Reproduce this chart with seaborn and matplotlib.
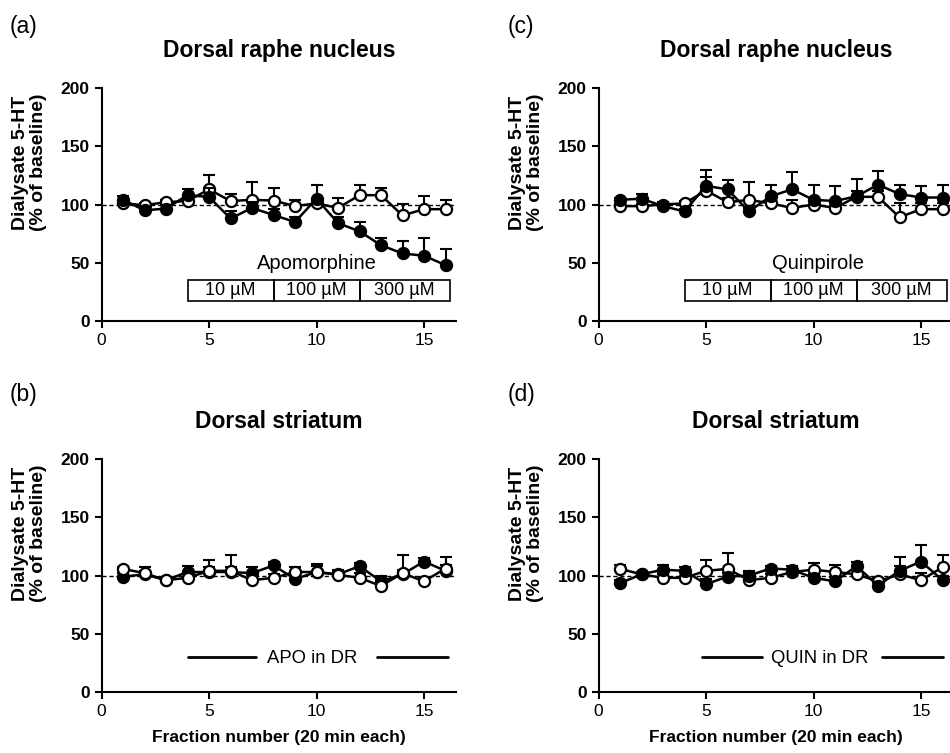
import numpy as np
import matplotlib
matplotlib.use("Agg")
import matplotlib.pyplot as plt
import seaborn as sns
from matplotlib.patches import Rectangle

fractions = np.arange(1, 17)

# (a) DR, apomorphine perfused in DR
a_filled = [104, 95, 96.5, 108, 106.5, 88, 97, 91, 85, 105, 84, 77, 65, 58, 56, 48]
a_filled_err = [3, 3, 3, 5, 8, 6, 5, 5, 4, 12, 5, 8, 6, 10.5, 15, 14]
a_open = [101, 99.4, 102, 103, 113, 103, 104, 103.4, 98.6, 101, 97, 108, 108, 90.6, 96, 96]
a_open_err = [2, 2, 2, 3, 12, 6, 15, 10.6, 5.4, 4, 9, 9, 6, 10, 11, 8]

# (b) striatum, apomorphine in DR
b_filled = [99, 101, 96, 103, 103, 103, 102, 108.6, 97, 103, 101, 108, 95, 101, 112, 104]
b_filled_err = [3, 3, 2, 5, 4, 4, 5, 3, 4, 5, 3, 3, 5, 4, 3, 5]
b_open = [105.7, 102, 96, 98, 104, 104, 96, 98, 103, 103, 100.6, 98, 91, 102, 95, 106]
b_open_err = [2, 5, 2, 3, 9, 14, 5, 3, 4, 7, 4, 4, 6, 16, 4, 10]

# (c) DR, quinpirole perfused in DR
c_filled = [104, 105, 98.6, 94, 116, 113, 94, 107, 113, 104, 103, 107, 117, 109, 106, 106]
c_filled_err = [2, 4, 2, 2, 14, 8, 3, 9.6, 15, 12.6, 13, 15, 12, 8, 10, 11]
c_open = [98.6, 98.6, 100, 101, 112, 102, 104, 101, 97, 100, 97, 106.6, 106.6, 89, 96, 96]
c_open_err = [2, 2, 2, 2, 12, 4, 15, 5, 7, 4, 4, 5, 5, 12, 5, 5]

# (d) striatum, quinpirole in DR
d_filled = [93.4, 101, 105, 104, 92.6, 99, 100, 106, 105, 98, 95, 108, 91.4, 104, 112, 96]
d_filled_err = [3, 2, 4, 3, 4, 3, 4, 2, 3, 3, 4, 4, 3, 4, 14, 4]
d_open = [105.7, 101, 98, 98, 104, 105.7, 96, 98, 103, 105, 103, 101, 95, 101, 96, 107]
d_open_err = [3, 2, 3, 2, 9, 14, 6, 3, 3, 6, 6, 4, 3, 15, 6, 11]

doses = ["10 µM", "100 µM", "300 µM"]
dose_edges = [4, 8, 12, 16.2]

sns.set_style("ticks")
plt.rcParams['font.family'] = ['Liberation Sans', 'DejaVu Sans']
plt.rcParams['text.color'] = 'black'
plt.rcParams['axes.labelcolor'] = 'black'

fig = plt.figure(figsize=(9.5, 7.53), dpi=100)
W, H = 950, 753
px = 21.5
ax_w = 16.5 * px / W
ax_h = 233 / H
axes = {
    "a": fig.add_axes([101.5 / W, 1 - 321 / H, ax_w, ax_h]),
    "c": fig.add_axes([598.5 / W, 1 - 321 / H, ax_w, ax_h]),
    "b": fig.add_axes([101.5 / W, 1 - 692 / H, ax_w, ax_h]),
    "d": fig.add_axes([598.5 / W, 1 - 692 / H, ax_w, ax_h]),
}
panels = {
    "a": (a_filled, a_filled_err, a_open, a_open_err, "Dorsal raphe nucleus"),
    "b": (b_filled, b_filled_err, b_open, b_open_err, "Dorsal striatum"),
    "c": (c_filled, c_filled_err, c_open, c_open_err, "Dorsal raphe nucleus"),
    "d": (d_filled, d_filled_err, d_open, d_open_err, "Dorsal striatum"),
}


def draw_series(ax, y, err, face, z):
    ax.errorbar(fractions, y, yerr=[np.zeros(len(err)), err], fmt="none",
                ecolor="black", elinewidth=1.5, capsize=4.5, capthick=1.5, zorder=z)
    sns.lineplot(x=fractions, y=y, ax=ax, color="black", linewidth=1.8,
                 marker="o", markersize=8, markerfacecolor=face,
                 markeredgecolor="black", markeredgewidth=1.6, zorder=z + 0.5)


for key, ax in axes.items():
    filled, ferr, opn, oerr, title = panels[key]
    ax.axhline(100, color="black", linestyle=(0, (3, 2)), linewidth=1.0, zorder=1)
    if key == "b":
        draw_series(ax, filled, ferr, "black", 2)
        draw_series(ax, opn, oerr, "white", 3)
    else:
        draw_series(ax, opn, oerr, "white", 2)
        draw_series(ax, filled, ferr, "black", 3)

    ax.set_xlim(0, 16.5)
    ax.set_ylim(0, 200)
    ax.set_xticks([0, 5, 10, 15])
    ax.set_yticks([0, 50, 100, 150, 200])
    sns.despine(ax=ax)
    for s in ["left", "bottom"]:
        ax.spines[s].set_linewidth(1.5)
        ax.spines[s].set_color("black")
    ax.tick_params(direction="out", length=5, width=1.5, colors="black")
    ax.tick_params(axis="x", labelsize=12.5)
    ax.tick_params(axis="y", labelsize=12.5)
    for lab in ax.get_yticklabels():
        lab.set_fontweight("bold")
    ax.set_title(title, fontsize=16.5, fontweight="bold", pad=22)
    ax.set_ylabel("Dialysate 5-HT\n(% of baseline)", fontsize=14,
                  fontweight="bold", linespacing=1.05)
    ax.yaxis.set_label_coords(-0.155, 0.68)
    if key in ("b", "d"):
        ax.set_xlabel("Fraction number (20 min each)", fontsize=12.5,
                      fontweight="bold", labelpad=8)
    else:
        ax.set_xlabel("")

# dose boxes
for key, drug, tx in [("a", "Apomorphine", 10.0), ("c", "Quinpirole", 10.2)]:
    ax = axes[key]
    ax.text(tx, 49, drug, ha="center", va="center", fontsize=14.5)
    for i, d in enumerate(doses):
        x0, x1 = dose_edges[i], dose_edges[i + 1]
        ax.add_patch(Rectangle((x0, 17), x1 - x0, 18, fill=False,
                               edgecolor="black", linewidth=1.2, clip_on=False))
        ax.text((x0 + x1) / 2, 26, d, ha="center", va="center", fontsize=13)

# perfusion bars in striatum panels
for key, label, tx, seg1, seg2 in [("b", "APO in DR", 9.8, (4.0, 7.2), (12.8, 16.1)),
                                   ("d", "QUIN in DR", 10.3, (4.8, 7.6), (13.2, 16.0))]:
    ax = axes[key]
    ax.text(tx, 29, label, ha="center", va="center", fontsize=13.3)
    ax.plot(seg1, [30, 30], color="black", linewidth=2)
    ax.plot(seg2, [30, 30], color="black", linewidth=2, clip_on=False)

for lab, x, y in [("(a)", 10, 27), ("(c)", 508, 27), ("(b)", 10, 395), ("(d)", 508, 395)]:
    fig.text(x / W, 1 - y / H, lab, fontsize=16.5, ha="left", va="center")

fig.savefig("out.png", dpi=100)
